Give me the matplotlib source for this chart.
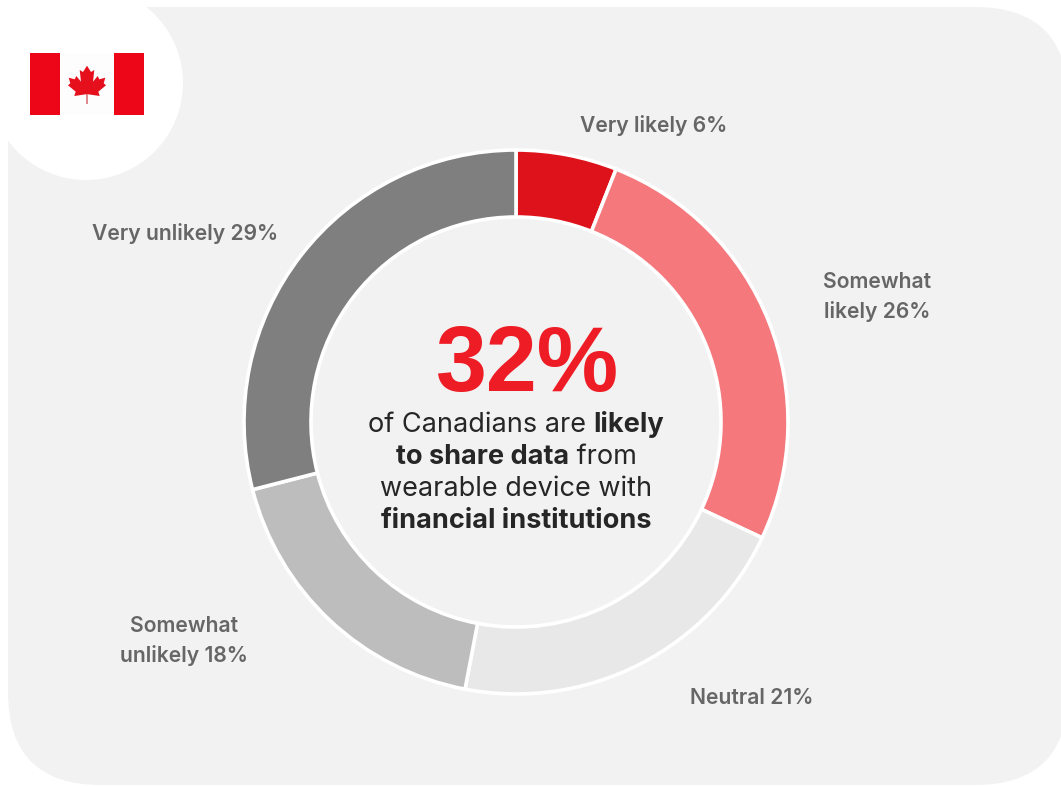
import matplotlib
matplotlib.use('Agg')
import matplotlib.pyplot as plt
from matplotlib.patches import Circle, FancyBboxPatch, Polygon, Rectangle

plt.rcParams['font.family'] = ['Inter', 'DejaVu Sans']

categories = ['Very likely', 'Somewhat\nlikely', 'Neutral', 'Somewhat\nunlikely', 'Very unlikely']
values = [6, 26, 21, 18, 29]
colors = ['#de121a', '#f5787c', '#e8e8e8', '#bdbdbd', '#7f7f7f']

headline = '32%'
center_lines = [
    [('of Canadians are ', 'normal'), ('likely', 'bold')],
    [('to share data', 'bold'), (' from', 'normal')],
    [('wearable device with', 'normal')],
    [('financial institutions', 'bold')],
]

W, H = 1061, 786
fig = plt.figure(figsize=(W / 100, H / 100), dpi=100, facecolor='white')

# background layer in pixel units, y pointing down
bg = fig.add_axes([0, 0, 1, 1])
bg.set_xlim(0, W)
bg.set_ylim(H, 0)
bg.axis('off')

# the panel runs a little past the right edge of the figure
corner = 93
bg.add_patch(FancyBboxPatch((8 + corner, 7 + corner), 1068 - 8 - 2 * corner, 785 - 7 - 2 * corner,
                            boxstyle=f'round,pad={corner},rounding_size={corner}',
                            fc='#f2f2f2', ec='none'))
bg.add_patch(Circle((86, 83), 97, fc='white', ec='none'))

# flag
bg.add_patch(Rectangle((30, 53), 114, 62, fc='#ec0618', ec='none'))
bg.add_patch(Rectangle((60, 53), 54, 62, fc='#fdfdfd', ec='none'))
half_leaf = [(0, 65.7), (4, 72), (7.3, 70), (6, 81.7), (10.7, 76), (12.3, 79.3),
             (18.3, 77.7), (16.7, 83.3), (19, 85.3), (11.3, 91.7), (12.7, 96),
             (1.3, 94.3)]
leaf = [(87 + x, y) for x, y in half_leaf] + [(87 - x, y) for x, y in half_leaf[:0:-1]]
bg.add_patch(Polygon(leaf, fc='#e5101c', ec='none'))
bg.plot([87, 87], [94, 104], color='#d9737a', lw=1.2, solid_capstyle='butt')

# donut
cx, cy, r = 516, 422, 272
ax = fig.add_axes([(cx - r) / W, 1 - (cy + r) / H, 2 * r / W, 2 * r / H])
ax.pie(values, colors=colors, startangle=90, counterclock=False, radius=1,
       wedgeprops=dict(width=67 / r, edgecolor='white', linewidth=2.6))
ax.set_xlim(-1, 1)
ax.set_ylim(-1, 1)
ax.set_aspect('equal')
ax.axis('off')

# segment labels
label_color = '#666666'
label_pos = [(653.5, 126), (877.5, 297), (752, 698), (184, 641), (185.5, 233)]
for (x, y), name, v in zip(label_pos, categories, values):
    bg.text(x, y, f'{name} {v}%', ha='center', va='center', fontsize=15.2,
            fontweight='semibold', color=label_color, linespacing=1.55, zorder=5)

# big number
bg.text(527, 391, headline, ha='center', va='baseline', fontsize=66, fontweight='bold',
        family='Liberation Sans', color='#ee1c25', zorder=5)

# center text, placed run by run so bold and regular share a line
renderer = fig.canvas.get_renderer()
line_y = [422, 454, 486, 518]
size = 19.5
for y, runs in zip(line_y, center_lines):
    parts = [bg.text(0, y, s, fontsize=size, fontweight=w, color='#262626',
                     va='center_baseline', ha='left', zorder=5) for s, w in runs]
    widths = []
    for s, w in runs:
        # trailing spaces are dropped from the bbox, so measure with no-break spaces
        probe = bg.text(0, 0, s.replace(' ', '\u00a0'), fontsize=size, fontweight=w)
        widths.append(probe.get_window_extent(renderer).width)
        probe.remove()
    x = 516 - sum(widths) / 2
    for part, width in zip(parts, widths):
        part.set_x(x)
        x += width

fig.savefig('out.png', dpi=100, facecolor='white')
